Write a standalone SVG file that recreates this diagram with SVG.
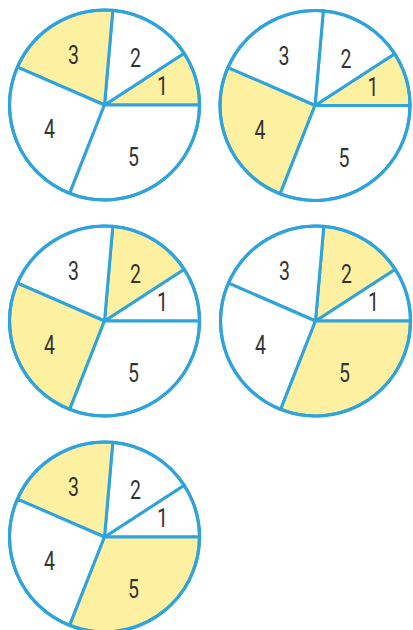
<svg xmlns="http://www.w3.org/2000/svg" xmlns:xlink="http://www.w3.org/1999/xlink" width="413" height="630" viewBox="0 0 413 630">
<style>
.s{fill:#ffffff;stroke:#2ea3dc;stroke-width:3;stroke-linejoin:round}
.y{fill:#fdf0a0}
.o{fill:none;stroke:#2ea3dc;stroke-width:3.2}
.t{font-family:Roboto,"Liberation Sans",sans-serif;font-size:25px;fill:#333333;text-anchor:middle}
</style>
<defs>
<path id="s1" d="M0,0 L95,0 A95,95 0 0 0 79.67,-51.74 Z"/>
<path id="s2" d="M0,0 L79.67,-51.74 A95,95 0 0 0 8.28,-94.64 Z"/>
<path id="s3" d="M0,0 L8.28,-94.64 A95,95 0 0 0 -87.12,-37.88 Z"/>
<path id="s4" d="M0,0 L-87.12,-37.88 A95,95 0 0 0 -34.82,88.39 Z"/>
<path id="s5" d="M0,0 L-34.82,88.39 A95,95 0 0 0 95,0 Z"/>
<g id="labels">
<text class="t" transform="translate(58,-10) scale(0.78,1)">1</text>
<text class="t" transform="translate(31,-38) scale(0.78,1)">2</text>
<text class="t" transform="translate(-31,-41) scale(0.78,1)">3</text>
<text class="t" transform="translate(-55,33) scale(0.78,1)">4</text>
<text class="t" transform="translate(29,61) scale(0.78,1)">5</text>
</g>
</defs>
<g id="pie1" transform="translate(104.5,105)">
<use href="#s1" class="s y"/><use href="#s2" class="s"/><use href="#s3" class="s y"/><use href="#s4" class="s"/><use href="#s5" class="s"/>
<circle class="o" r="95"/><use href="#labels"/>
</g>
<g id="pie2" transform="translate(315,105.5)">
<use href="#s1" class="s y"/><use href="#s2" class="s"/><use href="#s3" class="s"/><use href="#s4" class="s y"/><use href="#s5" class="s"/>
<circle class="o" r="95"/><use href="#labels"/>
</g>
<g id="pie3" transform="translate(104.5,321)">
<use href="#s1" class="s"/><use href="#s2" class="s y"/><use href="#s3" class="s"/><use href="#s4" class="s y"/><use href="#s5" class="s"/>
<circle class="o" r="95"/><use href="#labels"/>
</g>
<g id="pie4" transform="translate(315.5,321)">
<use href="#s1" class="s"/><use href="#s2" class="s y"/><use href="#s3" class="s"/><use href="#s4" class="s"/><use href="#s5" class="s y"/>
<circle class="o" r="95"/><use href="#labels"/>
</g>
<g id="pie5" transform="translate(104.5,537)">
<use href="#s1" class="s"/><use href="#s2" class="s"/><use href="#s3" class="s y"/><use href="#s4" class="s"/><use href="#s5" class="s y"/>
<circle class="o" r="95"/><use href="#labels"/>
</g>
</svg>
